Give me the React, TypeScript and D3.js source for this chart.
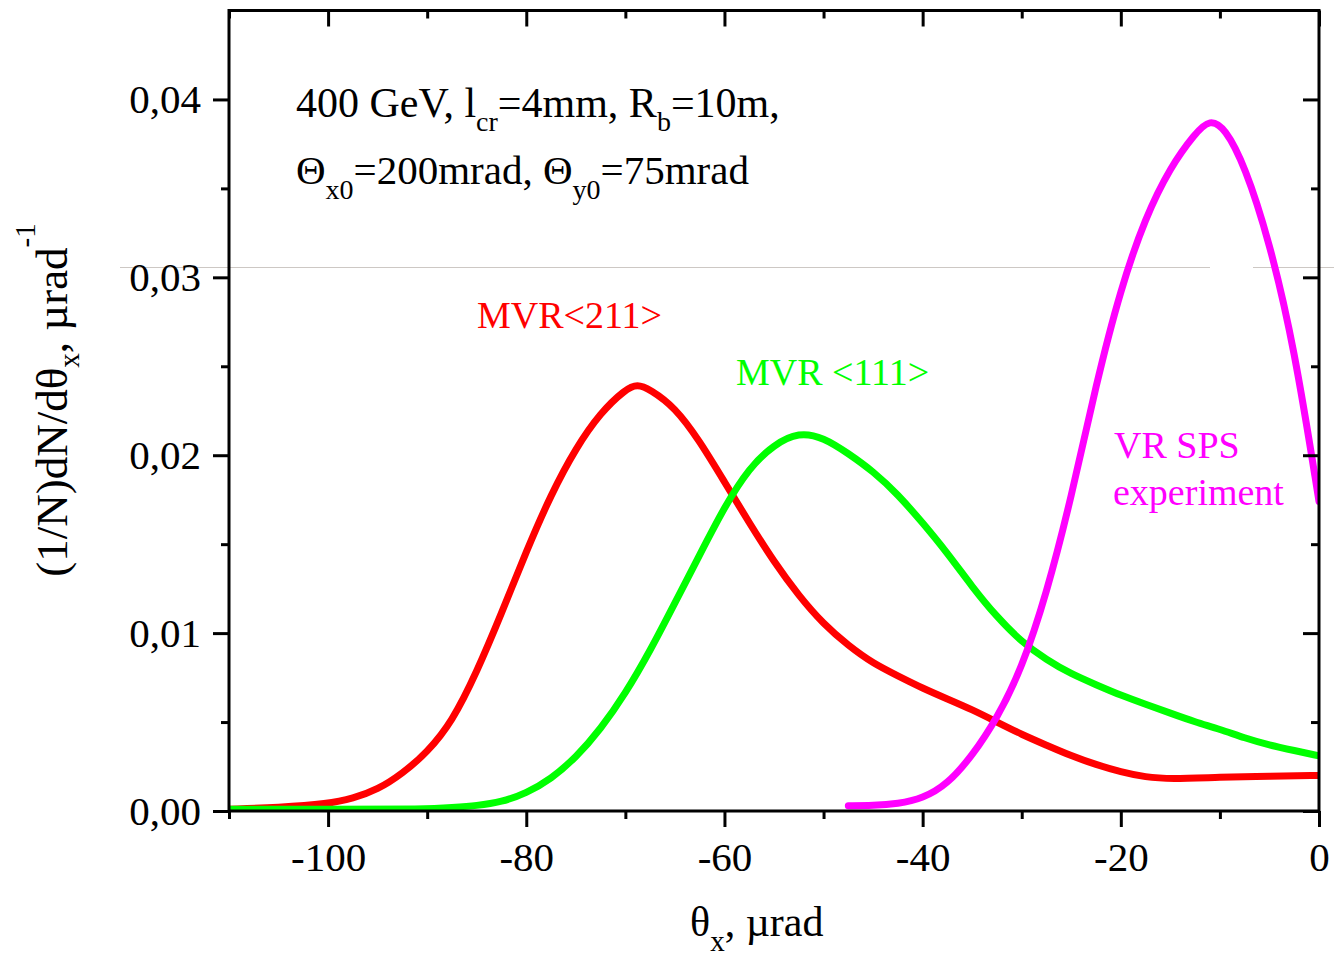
import React, { useEffect, useRef } from "react";
import * as d3 from "d3";

// Angular distributions dN/dθx of 400 GeV protons, θx in µrad
const THETA_MVR211 = [-110, -105, -100, -97.5, -95, -92.5, -90, -87.5, -85, -82.5, -80, -77.5, -75, -72.5, -70, -68.8, -67.5, -65, -62.5, -60, -57.5, -55, -52.5, -50, -47.5, -45, -42.5, -40, -37.5, -35, -32.5, -30, -27.5, -25, -22.5, -20, -17.5, -15, -10, -5, 0];
const DN_MVR211 = [0.0001, 0.0002, 0.0004, 0.0007, 0.0012, 0.0021, 0.0033, 0.0050, 0.0078, 0.0111, 0.0146, 0.0178, 0.0204, 0.0224, 0.0237, 0.0240, 0.0237, 0.0227, 0.0208, 0.0185, 0.0162, 0.0140, 0.0121, 0.0105, 0.0093, 0.0083, 0.0076, 0.0069, 0.0063, 0.0057, 0.0050, 0.0043, 0.0037, 0.0031, 0.0026, 0.0022, 0.0019, 0.0018, 0.0019, 0.00195, 0.0020];

const THETA_MVR111 = [-110, -100, -90, -87.5, -85, -82.5, -80, -77.5, -75, -72.5, -70, -67.5, -65, -62.5, -60, -57.5, -55, -52.5, -50, -47.5, -45, -42.5, -40, -37.5, -35, -32.5, -30, -27.5, -25, -22.5, -20, -17.5, -15, -12.5, -10, -7.5, -5, -2.5, 0];
const DN_MVR111 = [0.0001, 0.0001, 0.0001, 0.0002, 0.0003, 0.0005, 0.0010, 0.0018, 0.0030, 0.0046, 0.0066, 0.0090, 0.0117, 0.0144, 0.0171, 0.0193, 0.0206, 0.0213, 0.0210, 0.0201, 0.0191, 0.0178, 0.0162, 0.0145, 0.0126, 0.0109, 0.0095, 0.0085, 0.0077, 0.0071, 0.0065, 0.0060, 0.0055, 0.0050, 0.0046, 0.0041, 0.0037, 0.0034, 0.0031];

const THETA_VR_SPS = [-47.5, -45, -42.5, -40, -37.5, -35, -32.5, -30, -27.5, -25, -22.5, -20, -17.5, -15, -12.5, -11, -9.5, -7.5, -5, -2.5, 0];
const DN_VR_SPS = [0.0003, 0.0003, 0.0004, 0.0007, 0.0015, 0.0031, 0.0052, 0.0080, 0.0122, 0.0176, 0.0240, 0.0294, 0.0334, 0.0362, 0.0381, 0.0389, 0.0384, 0.0363, 0.0320, 0.0261, 0.0174];

const X_MAJOR = [-100, -80, -60, -40, -20, 0];
const X_MINOR = [-110, -90, -70, -50, -30, -10];
const Y_MAJOR = [0, 0.01, 0.02, 0.03, 0.04];
const Y_MINOR = [0.005, 0.015, 0.025, 0.035];

const FONT = "'Liberation Serif', 'Times New Roman', serif";

type Part = [string, "n" | "sub" | "sup"];

export default function App() {
  const ref = useRef<SVGSVGElement>(null);

  useEffect(() => {
    const svg = d3.select(ref.current);
    svg.selectAll("*").remove();

    const x = d3.scaleLinear().domain([-110, 0]).range([229, 1319]);
    const y = d3.scaleLinear().domain([0, 0.045]).range([811, 10.5]);

    svg.append("rect").attr("width", 1334).attr("height", 958).attr("fill", "#fff");

    // faint horizontal scan line across the panel
    const yLine = Math.round(y(0.03056)) + 0.5;
    [[120, 1210], [1253, 1334]].forEach(([a, b]) => {
      svg.append("line").attr("x1", a).attr("x2", b).attr("y1", yLine).attr("y2", yLine)
        .attr("stroke", "#cdc8c4").attr("stroke-width", 1);
    });

    svg.append("defs").append("clipPath").attr("id", "plotclip")
      .append("rect").attr("x", 229).attr("y", 0).attr("width", 1319 - 229).attr("height", 811);

    const line = d3.line<[number, number]>()
      .x((d) => x(d[0])).y((d) => y(d[1]))
      .curve(d3.curveBasis);

    const series: [number[], number[], string][] = [
      [THETA_MVR211, DN_MVR211, "#ff0000"],
      [THETA_MVR111, DN_MVR111, "#00ff00"],
      [THETA_VR_SPS, DN_VR_SPS, "#ff00ff"],
    ];
    const curves = svg.append("g").attr("clip-path", "url(#plotclip)");
    series.forEach(([xs, ys, c]) => {
      curves.append("path")
        .attr("d", line(xs.map((v, i) => [v, ys[i]] as [number, number])) as string)
        .attr("fill", "none").attr("stroke", c).attr("stroke-width", 7)
        .attr("stroke-linecap", "round").attr("stroke-linejoin", "round");
    });

    const styleAxis = (g: any) => {
      g.select(".domain").remove();
      g.selectAll("line").attr("stroke", "#000").attr("stroke-width", 3);
      g.attr("font-family", FONT).attr("font-size", 41);
      g.selectAll("text").attr("fill", "#000");
    };

    // bottom axis
    const bMaj = svg.append("g").attr("transform", "translate(0,811)")
      .call(d3.axisBottom(x).tickValues(X_MAJOR).tickSize(16).tickSizeOuter(0).tickFormat((d: any) => String(d)));
    styleAxis(bMaj);
    bMaj.selectAll("text").attr("y", 60).attr("dy", 0);
    const bMin = svg.append("g").attr("transform", "translate(0,811)")
      .call(d3.axisBottom(x).tickValues(X_MINOR).tickSize(8).tickSizeOuter(0).tickFormat(() => ""));
    styleAxis(bMin);

    // top axis, ticks inward
    const tMaj = svg.append("g").attr("transform", "translate(0,10.5)")
      .call(d3.axisBottom(x).tickValues(X_MAJOR).tickSize(16).tickSizeOuter(0).tickFormat(() => ""));
    styleAxis(tMaj);
    const tMin = svg.append("g").attr("transform", "translate(0,10.5)")
      .call(d3.axisBottom(x).tickValues(X_MINOR).tickSize(8).tickSizeOuter(0).tickFormat(() => ""));
    styleAxis(tMin);

    // left axis
    const fmt = (d: any) => d3.format(".2f")(d).replace(".", ",");
    const lMaj = svg.append("g").attr("transform", "translate(229,0)")
      .call(d3.axisLeft(y).tickValues(Y_MAJOR).tickSize(16).tickSizeOuter(0).tickFormat(fmt));
    styleAxis(lMaj);
    lMaj.selectAll("text").attr("x", -28).attr("dy", 13.5);
    const lMin = svg.append("g").attr("transform", "translate(229,0)")
      .call(d3.axisLeft(y).tickValues(Y_MINOR).tickSize(8).tickSizeOuter(0).tickFormat(() => ""));
    styleAxis(lMin);

    // right axis, ticks inward
    const rMaj = svg.append("g").attr("transform", "translate(1319,0)")
      .call(d3.axisLeft(y).tickValues(Y_MAJOR).tickSize(16).tickSizeOuter(0).tickFormat(() => ""));
    styleAxis(rMaj);
    const rMin = svg.append("g").attr("transform", "translate(1319,0)")
      .call(d3.axisLeft(y).tickValues(Y_MINOR).tickSize(8).tickSizeOuter(0).tickFormat(() => ""));
    styleAxis(rMin);

    // frame
    svg.append("path")
      .attr("d", `M229,811 L229,${y(0.045)} L1319,${y(0.045)} L1319,811 L229,811`)
      .attr("fill", "none").attr("stroke", "#000").attr("stroke-width", 3)
      .attr("stroke-linecap", "square");

    const rich = (
      parent: any, px: number, py: number, parts: Part[], size: number, subSize: number,
      color: string, subShift: number, supShift: number, transform?: string, anchor = "start"
    ) => {
      const t = parent.append("text").attr("x", px).attr("y", py)
        .attr("font-family", FONT).attr("font-size", size).attr("fill", color)
        .attr("text-anchor", anchor);
      if (transform) t.attr("transform", transform);
      let cur = 0;
      parts.forEach(([s, k]) => {
        const target = k === "sub" ? subShift : k === "sup" ? -supShift : 0;
        const ts = t.append("tspan").attr("dy", target - cur).text(s);
        if (k !== "n") ts.attr("font-size", subSize);
        cur = target;
      });
      return t;
    };

    rich(svg, 296, 117, [["400 GeV, l", "n"], ["cr", "sub"], ["=4mm, R", "n"], ["b", "sub"], ["=10m,", "n"]], 42, 28, "#000", 14, 0);
    rich(svg, 296, 184, [["Θ", "n"], ["x0", "sub"], ["=200mrad, Θ", "n"], ["y0", "sub"], ["=75mrad", "n"]], 41, 28, "#000", 15, 0);

    rich(svg, 690, 936, [["θ", "n"], ["x", "sub"], [", µrad", "n"]], 42, 29, "#000", 15, 0);
    rich(svg, 0, 0, [["(1/N)dN/dθ", "n"], ["x", "sub"], [", µrad", "n"], ["-1", "sup"]], 45, 29, "#000", 12, 32,
      "translate(67,400) rotate(-90)", "middle");

    const label = (px: number, py: number, s: string, c: string) =>
      svg.append("text").attr("x", px).attr("y", py).attr("font-family", FONT)
        .attr("font-size", 38).attr("fill", c).text(s);
    label(477, 328, "MVR<211>", "#ff0000");
    label(736, 385, "MVR <111>", "#00ff00");
    label(1114, 458, "VR SPS", "#ff00ff");
    label(1113, 505, "experiment", "#ff00ff");
  }, []);

  return (
    <svg ref={ref} width={1334} height={958}
      style={{ position: "absolute", left: 0, top: 0, display: "block" }} />
  );
}
